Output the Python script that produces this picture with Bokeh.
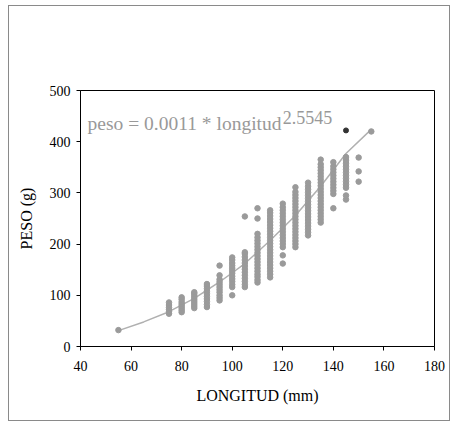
from bokeh.plotting import figure
from bokeh.models import Label, FixedTicker, InlineStyleSheet
from bokeh.embed import file_html
from bokeh.resources import INLINE

# ---- data (longitud in mm, peso in g) ----
longitudes = [55, 75, 80, 85, 90, 95, 100, 105, 110, 115, 120, 125, 130, 135, 140, 145, 150, 155]

p55 = [32]
p75 = [64, 68, 72, 76, 81, 86]
p80 = [67, 71, 75, 79, 83, 87, 92, 96]
p85 = [75, 79, 83, 87, 91, 95, 99, 103, 106]
p90 = [77, 82, 88, 93, 98, 103, 108, 113, 118, 122]
p95 = [90, 95, 100, 106, 111, 116, 121, 126, 131, 139, 158]
p100 = [100, 116, 121, 127, 132, 137, 143, 148, 153, 158, 163, 169, 174]
p105 = [116, 121, 127, 133, 139, 145, 151, 157, 163, 169, 175, 181, 184, 254]
p110 = [125, 130, 136, 141, 147, 153, 159, 165, 171, 177, 183, 189, 195, 201, 207, 213, 220, 250, 270]
p115 = [135, 141, 147, 153, 159, 165, 171, 177, 183, 189, 195, 201, 207, 213, 219, 225, 231, 237,
        243, 249, 255, 261, 266]
p120 = [162, 178, 194, 200, 206, 212, 218, 224, 230, 236, 242, 248, 254, 260, 266, 272, 279]
p125 = [194, 200, 206, 212, 218, 224, 230, 236, 242, 248, 254, 260, 266, 272, 278, 284, 290, 296,
        302, 311]
p130 = [217, 223, 229, 235, 241, 247, 253, 259, 265, 271, 277, 283, 289, 295, 301, 307, 313, 320]
p135 = [242, 248, 254, 260, 266, 272, 278, 284, 290, 296, 302, 308, 314, 320, 326, 332, 338, 344,
        350, 356, 365]
p140 = [270, 298, 304, 310, 316, 322, 328, 334, 340, 346, 352, 360]
p145 = [287, 295, 310, 316, 322, 328, 334, 340, 346, 352, 358, 364, 370]
p150 = [322, 342, 369]
p155 = [420]

pesos = [p55, p75, p80, p85, p90, p95, p100, p105, p110, p115, p120, p125, p130, p135, p140,
         p145, p150, p155]

# darker point
dark_longitud = [145]
dark_peso = [422]

# fitted curve
curva_longitud = [55, 65, 75, 85, 95, 105, 115, 125, 135, 145, 155]
curva_peso = [31, 48, 68, 94, 126, 162, 207, 256, 313, 377, 424]

x_ticks = [40, 60, 80, 100, 120, 140, 160, 180]
y_ticks = [0, 100, 200, 300, 400, 500]

xs, ys = [], []
for L, col in zip(longitudes, pesos):
    for v in col:
        xs.append(L)
        ys.append(v)

FONT = "Liberation Serif"

frame_css = InlineStyleSheet(css="""
:host { position: relative; }
:host::after {
  content: "";
  position: absolute;
  left: 8px; top: 5px; right: 4px; bottom: 3px;
  border: 1.5px solid #8a8a8a;
  pointer-events: none;
  z-index: 10;
}
""")

p = figure(width=454, height=424, x_range=(40, 180), y_range=(0, 500),
           output_backend="svg", toolbar_location=None,
           min_border_left=80, min_border_right=20, min_border_top=90, min_border_bottom=78)
p.stylesheets = [frame_css]
p.background_fill_color = "white"
p.border_fill_color = "white"
p.outline_line_color = "black"
p.outline_line_width = 1
p.xgrid.visible = False
p.ygrid.visible = False

p.xaxis.ticker = FixedTicker(ticks=x_ticks)
p.yaxis.ticker = FixedTicker(ticks=y_ticks)
for ax in (p.xaxis, p.yaxis):
    ax.minor_tick_line_color = None
    ax.major_tick_in = 0
    ax.major_tick_out = 4
    ax.axis_line_color = "black"
    ax.major_tick_line_color = "black"
    ax.major_label_text_font = FONT
    ax.major_label_text_font_size = "14px"
    ax.major_label_text_color = "black"
    ax.axis_label_text_font = FONT
    ax.axis_label_text_font_size = "16px"
    ax.axis_label_text_font_style = "normal"
    ax.axis_label_text_color = "black"

p.xaxis.axis_label = "LONGITUD (mm)"
p.yaxis.axis_label = "PESO (g)"
p.xaxis.major_label_standoff = 10
p.xaxis.axis_label_standoff = 13
p.yaxis.major_label_standoff = 6
p.yaxis.axis_label_standoff = 12

p.line(curva_longitud, curva_peso, line_color="#b0b0b0", line_width=1.5)
p.scatter(xs, ys, size=5.5, fill_color="#9a9a9a", line_color="#9a9a9a")
p.scatter(dark_longitud, dark_peso, size=5, fill_color="#333333", line_color="#333333")

p.add_layout(Label(x=42.8, y=436, text="peso = 0.0011 * longitud", text_font=FONT,
                   text_font_size="19.5px", text_color="#999999", text_baseline="alphabetic"))
p.add_layout(Label(x=120, y=447, text="2.5545", text_font=FONT,
                   text_font_size="18px", text_color="#999999", text_baseline="alphabetic"))

open("out.html", "w").write(file_html(p, INLINE))
